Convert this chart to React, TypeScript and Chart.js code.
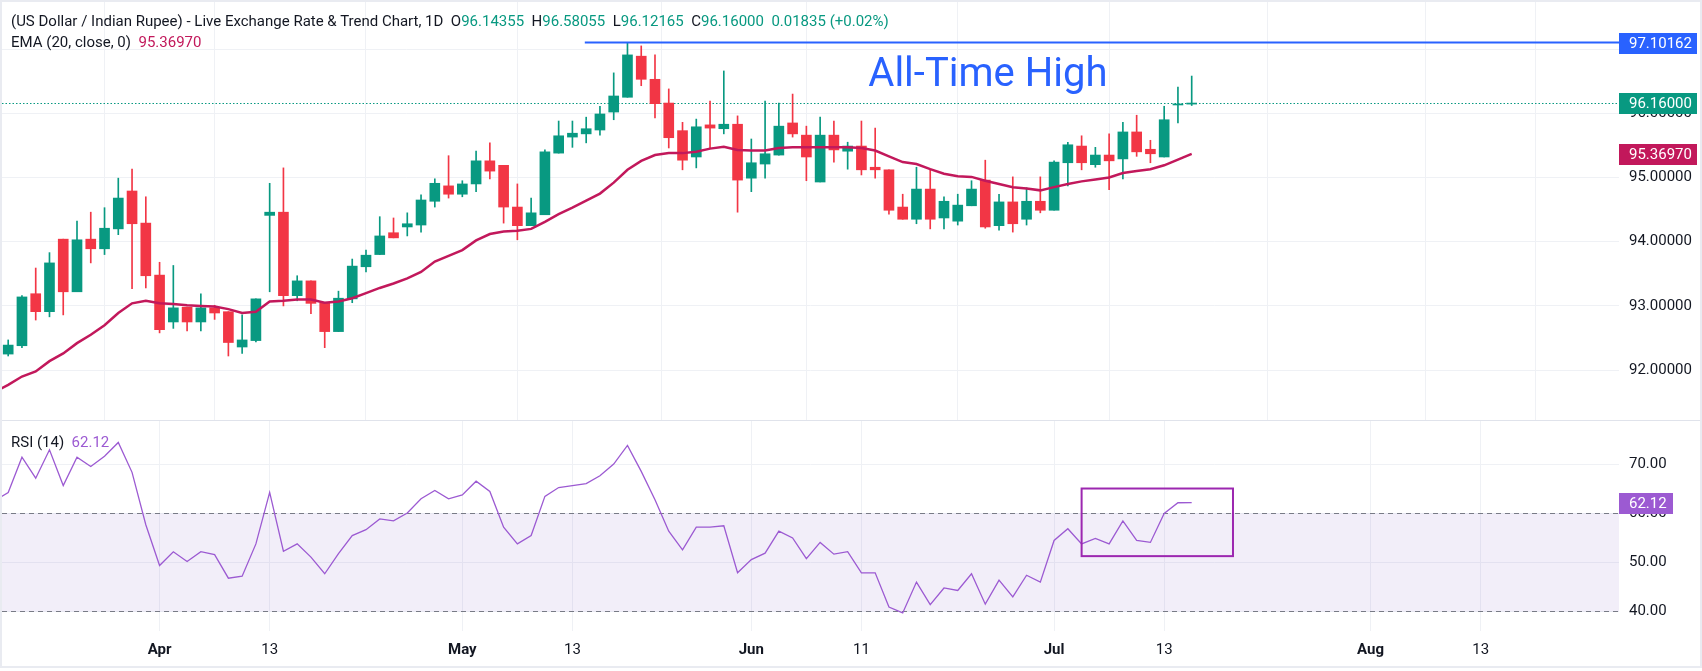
import React, { useEffect, useRef } from 'react';
import { Chart, registerables } from 'chart.js';

Chart.register(...registerables);

// daily candles, index 0 = Mar 17 ... index 86 = Jul 15
const opens = [
  92.25, 92.38, 93.19, 92.91, 94.04, 93.22, 94.04, 93.89, 94.20, 94.79,
  94.29, 93.48, 92.75, 92.98, 92.75, 92.97, 92.91, 92.36, 92.46, 94.41,
  94.46, 93.16, 93.39, 93.05, 92.60, 93.11, 93.61, 93.80, 94.14, 94.23,
  94.26, 94.63, 94.87, 94.74, 94.90, 95.26, 95.19, 94.54, 94.25, 94.42,
  95.38, 95.63, 95.68, 95.74, 96.02, 96.25, 96.89, 96.53, 96.16, 95.73,
  95.32, 95.82, 95.76, 95.83, 94.99, 95.21, 95.35, 95.85, 95.66, 94.93,
  95.66, 95.41, 95.49, 95.16, 95.12, 94.54, 94.35, 94.82, 94.37, 94.32,
  94.56, 94.96, 94.25, 94.62, 94.35, 94.63, 94.49, 95.23, 95.49, 95.20,
  95.35, 95.29, 95.71, 95.44, 95.32, 96.13, 96.14355,
];
const highs = [
  92.47, 93.16, 93.59, 93.83, 94.04, 94.32, 94.46, 94.53, 94.99, 95.13,
  94.70, 93.68, 93.63, 92.98, 93.19, 93.01, 92.91, 92.86, 93.11, 94.91,
  95.15, 93.47, 93.39, 93.05, 93.23, 93.73, 93.87, 94.39, 94.37, 94.45,
  94.73, 94.98, 95.34, 94.95, 95.41, 95.54, 95.19, 94.90, 94.68, 95.43,
  95.88, 95.88, 95.94, 96.11, 96.63, 97.10162, 97.05, 96.91, 96.38, 95.86,
  95.91, 96.19, 96.66, 95.96, 95.60, 96.19, 96.16, 96.30, 95.80, 95.94,
  95.88, 95.55, 95.88, 95.77, 95.12, 94.74, 95.16, 95.13, 94.70, 94.74,
  94.95, 95.27, 94.74, 95.01, 94.84, 95.01, 95.26, 95.55, 95.65, 95.47,
  95.68, 95.86, 95.97, 95.58, 96.11, 96.41, 96.58055,
];
const lows = [
  92.22, 92.35, 92.78, 92.83, 92.86, 93.22, 93.67, 93.80, 94.11, 93.27,
  93.28, 92.58, 92.65, 92.61, 92.61, 92.79, 92.22, 92.26, 92.44, 93.22,
  93.00, 93.08, 92.88, 92.35, 92.60, 93.05, 93.53, 93.80, 94.06, 94.09,
  94.15, 94.54, 94.68, 94.70, 94.78, 94.98, 94.29, 94.03, 94.25, 94.42,
  95.38, 95.47, 95.54, 95.66, 95.90, 96.25, 96.43, 95.93, 95.46, 95.12,
  95.15, 95.46, 95.68, 94.46, 94.78, 94.99, 95.35, 95.63, 94.95, 94.93,
  95.24, 95.13, 95.04, 94.99, 94.43, 94.35, 94.28, 94.20, 94.20, 94.26,
  94.56, 94.21, 94.18, 94.15, 94.26, 94.45, 94.49, 94.87, 95.12, 95.16,
  94.81, 94.98, 95.33, 95.23, 95.32, 95.85, 96.12165,
];
const closes = [
  92.39, 93.14, 92.91, 93.67, 93.22, 94.03, 93.89, 94.21, 94.68, 94.28,
  93.47, 92.63, 92.97, 92.75, 92.97, 92.89, 92.43, 92.47, 93.11, 94.46,
  93.16, 93.39, 93.04, 92.60, 93.12, 93.62, 93.79, 94.09, 94.06, 94.28,
  94.65, 94.91, 94.74, 94.90, 95.26, 95.10, 94.54, 94.25, 94.45, 95.40,
  95.65, 95.69, 95.76, 95.99, 96.27, 96.91, 96.53, 96.15, 95.62, 95.27,
  95.79, 95.77, 95.83, 94.96, 95.23, 95.37, 95.80, 95.68, 95.32, 95.66,
  95.43, 95.49, 95.12, 95.12, 94.49, 94.35, 94.82, 94.35, 94.63, 94.57,
  94.82, 94.23, 94.62, 94.28, 94.63, 94.49, 95.24, 95.51, 95.23, 95.35,
  95.26, 95.71, 95.40, 95.37, 95.90, 96.14165, 96.16,
];

// EMA(20, close) and RSI(14), starting one bar before the first candle
const seriesStart = -1;
const ema20 = [
  91.66,
  91.77, 91.90, 91.98, 92.14, 92.26, 92.42, 92.55, 92.70, 92.89, 93.04,
  93.08, 93.04, 93.03, 93.01, 93.00, 92.99, 92.95, 92.89, 92.91, 93.07,
  93.08, 93.10, 93.10, 93.05, 93.07, 93.12, 93.20, 93.28, 93.35, 93.43,
  93.53, 93.69, 93.78, 93.87, 94.02, 94.12, 94.16, 94.17, 94.20, 94.31,
  94.43, 94.53, 94.64, 94.75, 94.92, 95.12, 95.26, 95.35, 95.38, 95.38,
  95.40, 95.45, 95.48, 95.43, 95.42, 95.42, 95.46, 95.47, 95.47, 95.47,
  95.47, 95.47, 95.46, 95.42, 95.33, 95.24, 95.21, 95.13, 95.06, 95.02,
  95.01, 94.95, 94.90, 94.85, 94.83, 94.80, 94.85, 94.90, 94.94, 94.97,
  95.00, 95.07, 95.10, 95.13, 95.19, 95.28, 95.3697,
];
const rsi14 = [
  62.5,
  64.2, 71.4, 67.1, 72.9, 65.6, 71.4, 69.5, 71.6, 74.4, 68.3,
  57.6, 49.3, 52.1, 50.1, 52.1, 51.5, 46.7, 47.1, 53.7, 64.2,
  52.2, 53.7, 51.0, 47.6, 51.7, 55.4, 56.6, 58.8, 58.4, 60.0,
  62.9, 64.6, 62.9, 63.7, 66.5, 64.4, 57.1, 53.7, 55.4, 63.4,
  65.2, 65.6, 66.0, 67.6, 70.0, 73.8, 68.5, 62.7, 56.3, 52.5,
  57.1, 57.1, 57.4, 47.8, 50.5, 51.8, 56.3, 54.9, 50.7, 54.0,
  51.6, 52.1, 47.8, 47.8, 40.8, 39.6, 45.9, 41.3, 44.7, 44.2,
  47.6, 41.4, 46.3, 42.9, 47.3, 45.9, 54.4, 56.8, 53.7, 54.8,
  53.7, 58.4, 54.4, 54.0, 59.9, 62.1, 62.12,
];

// time axis labels (bar index -> text)
const xTickIdx = [11, 19, 33, 41, 54, 62, 76, 84, 99, 107];
const xTickLabels = ['Apr', '13', 'May', '13', 'Jun', '11', 'Jul', '13', 'Aug', '13'];
const monthLabels = ['Apr', 'May', 'Jun', 'Jul', 'Aug'];
const priceTicks = [92, 93, 94, 95, 96, 97];
const rsiTicks = [40, 50, 60, 70];

const athPrice = 97.10162;
const athStartIdx = 41.9;
const athLabelIdx = 62.5;
const athLabelPrice = 96.43;
const lastClose = 96.16;
const lastEma = 95.3697;
const lastRsi = 62.12;
const rsiUpper = 60;
const rsiLower = 40;
const rsiBox = { from: 78, to: 89, top: 65, bottom: 51.2 };

const xMin = -0.45;
const xMax = 117.05;

const GREEN = '#089981';
const RED = '#f23645';
const EMA_COLOR = '#c2185b';
const BLUE = '#2962ff';
const RSI_COLOR = '#9c5ad2';
const GRID = '#eff1f5';
const TEXT = '#131722';
const FONT = 'Roboto';

Chart.defaults.font.family = FONT;

const labelAt = (v: number) => {
  const k = xTickIdx.indexOf(v);
  return k >= 0 ? xTickLabels[k] : '';
};

// keep the plot area where the layout puts it: no extra room for edge labels
const noPadding = (s: any) => {
  s.paddingTop = 0;
  s.paddingBottom = 0;
  s.paddingLeft = 0;
  s.paddingRight = 0;
};

const xScale = (showLabels: boolean): any => ({
  type: 'linear',
  min: xMin,
  max: xMax,
  offset: false,
  afterBuildTicks: (axis: any) => {
    axis.ticks = xTickIdx.map((v) => ({ value: v }));
  },
  afterFit: (s: any) => {
    s.height = showLabels ? 35 : 0;
    noPadding(s);
  },
  grid: { color: GRID, drawTicks: false },
  border: { display: false },
  ticks: {
    display: showLabels,
    autoSkip: false,
    maxRotation: 0,
    padding: 10,
    color: TEXT,
    font: (c: any) => ({
      family: FONT,
      size: 15,
      weight: c.tick && monthLabels.includes(labelAt(c.tick.value)) ? 'bold' : 'normal',
    }),
    callback: (v: any) => labelAt(Number(v)),
  },
});

const yScale = (min: number, max: number, ticks: number[], digits: number): any => ({
  type: 'linear',
  position: 'right',
  min,
  max,
  afterBuildTicks: (axis: any) => {
    axis.ticks = ticks.map((v) => ({ value: v }));
  },
  afterFit: (s: any) => {
    s.width = 81;
    noPadding(s);
  },
  grid: { color: GRID, drawTicks: false },
  border: { display: false },
  ticks: {
    padding: 10,
    color: TEXT,
    font: { family: FONT, size: 15 },
    callback: (v: any) => Number(v).toFixed(digits),
  },
});

function axisTag(chart: any, value: number, text: string, color: string, w: number) {
  const { ctx, chartArea, scales } = chart;
  const y = Math.round(scales.y.getPixelForValue(value));
  ctx.save();
  ctx.fillStyle = color;
  ctx.fillRect(chartArea.right, y - 10, w, 21);
  ctx.fillStyle = '#ffffff';
  ctx.font = `15px ${FONT}`;
  ctx.textBaseline = 'middle';
  ctx.textAlign = 'left';
  ctx.fillText(text, chartArea.right + 10, y + 1);
  ctx.restore();
}

const priceOverlay = {
  id: 'priceOverlay',
  beforeDatasetsDraw(chart: any) {
    const { ctx, chartArea, scales } = chart;
    const y = Math.round(scales.y.getPixelForValue(lastClose)) + 0.5;
    ctx.save();
    ctx.strokeStyle = GREEN;
    ctx.lineWidth = 1;
    ctx.setLineDash([1.5, 2]);
    ctx.beginPath();
    ctx.moveTo(chartArea.left, y);
    ctx.lineTo(chartArea.right, y);
    ctx.stroke();
    ctx.restore();
  },
  afterDraw(chart: any) {
    const { ctx, scales } = chart;
    ctx.save();
    ctx.fillStyle = BLUE;
    ctx.font = `40px ${FONT}`;
    ctx.textBaseline = 'alphabetic';
    ctx.fillText('All-Time High', scales.x.getPixelForValue(athLabelIdx), scales.y.getPixelForValue(athLabelPrice));
    ctx.restore();
    axisTag(chart, athPrice, athPrice.toFixed(5), BLUE, 78);
    axisTag(chart, lastClose, lastClose.toFixed(5), GREEN, 78);
    axisTag(chart, lastEma, lastEma.toFixed(5), EMA_COLOR, 78);
  },
};

const rsiOverlay = {
  id: 'rsiOverlay',
  beforeDatasetsDraw(chart: any) {
    const { ctx, chartArea, scales } = chart;
    const yU = Math.round(scales.y.getPixelForValue(rsiUpper)) + 0.5;
    const yL = Math.round(scales.y.getPixelForValue(rsiLower)) + 0.5;
    ctx.save();
    ctx.fillStyle = 'rgba(126, 87, 194, 0.1)';
    ctx.fillRect(chartArea.left, yU, chartArea.right - chartArea.left, yL - yU);
    ctx.strokeStyle = '#787b86';
    ctx.lineWidth = 1;
    ctx.setLineDash([5, 4]);
    [yU, yL].forEach((y) => {
      ctx.beginPath();
      ctx.moveTo(chartArea.left, y);
      ctx.lineTo(chartArea.right, y);
      ctx.stroke();
    });
    ctx.restore();
  },
  afterDatasetsDraw(chart: any) {
    const { ctx, scales } = chart;
    const x1 = scales.x.getPixelForValue(rsiBox.from);
    const x2 = scales.x.getPixelForValue(rsiBox.to);
    const y1 = scales.y.getPixelForValue(rsiBox.top);
    const y2 = scales.y.getPixelForValue(rsiBox.bottom);
    ctx.save();
    ctx.strokeStyle = '#9c27b0';
    ctx.lineWidth = 2;
    ctx.strokeRect(x1, y1, x2 - x1, y2 - y1);
    ctx.restore();
  },
  afterDraw(chart: any) {
    axisTag(chart, lastRsi, lastRsi.toFixed(2), RSI_COLOR, 54);
  },
};

export default function App() {
  const priceRef = useRef<HTMLCanvasElement>(null);
  const rsiRef = useRef<HTMLCanvasElement>(null);

  useEffect(() => {
    if (!priceRef.current || !rsiRef.current) return;

    const candleColors = closes.map((c, i) => (c >= opens[i] ? GREEN : RED));

    const priceChart = new Chart(priceRef.current, {
      type: 'bar',
      data: {
        datasets: [
          {
            type: 'line',
            data: [
              { x: athStartIdx, y: athPrice },
              { x: xMax, y: athPrice },
            ],
            borderColor: BLUE,
            borderWidth: 2,
            pointRadius: 0,
            order: 0,
          } as any,
          {
            type: 'line',
            data: ema20.map((v, k) => ({ x: k + seriesStart, y: v })),
            borderColor: EMA_COLOR,
            borderWidth: 2.5,
            pointRadius: 0,
            tension: 0,
            order: 1,
          } as any,
          {
            type: 'bar',
            data: opens.map((o, i) => ({ x: i, y: [o, closes[i]] })),
            backgroundColor: candleColors,
            barThickness: 10,
            minBarLength: 1,
            grouped: false,
            borderWidth: 0,
            order: 2,
          } as any,
          {
            type: 'bar',
            data: lows.map((l, i) => ({ x: i, y: [l, highs[i]] })),
            backgroundColor: candleColors,
            barThickness: 1,
            grouped: false,
            borderWidth: 0,
            order: 3,
          } as any,
        ],
      },
      options: {
        animation: false,
        responsive: false,
        maintainAspectRatio: false,
        layout: { padding: { left: 2, top: 2, right: 2, bottom: 0 } },
        plugins: { legend: { display: false }, tooltip: { enabled: false } },
        scales: {
          x: xScale(false),
          y: yScale(91.223, 97.734, priceTicks, 5),
        },
      },
      plugins: [priceOverlay],
    });

    const rsiChart = new Chart(rsiRef.current, {
      type: 'line',
      data: {
        datasets: [
          {
            data: rsi14.map((v, k) => ({ x: k + seriesStart, y: v })),
            borderColor: RSI_COLOR,
            borderWidth: 1.3,
            pointRadius: 0,
            tension: 0,
          },
        ],
      },
      options: {
        animation: false,
        responsive: false,
        maintainAspectRatio: false,
        layout: { padding: { left: 2, top: 0, right: 2, bottom: 0 } },
        plugins: { legend: { display: false }, tooltip: { enabled: false } },
        scales: {
          x: xScale(true),
          y: yScale(35.92, 78.78, rsiTicks, 2),
        },
      },
      plugins: [rsiOverlay],
    });

    return () => {
      priceChart.destroy();
      rsiChart.destroy();
    };
  }, []);

  const legend: React.CSSProperties = {
    position: 'absolute',
    left: 11,
    fontSize: 15,
    lineHeight: '18px',
    color: TEXT,
    whiteSpace: 'nowrap',
    zIndex: 2,
  };

  return (
    <div
      style={{
        position: 'absolute',
        left: 0,
        top: 0,
        width: 1702,
        height: 671,
        background: '#ffffff',
        fontFamily: FONT,
        overflow: 'hidden',
      }}
    >
      <canvas ref={priceRef} width={1702} height={420} style={{ position: 'absolute', left: 0, top: 0 }} />
      <div style={{ position: 'absolute', left: 0, top: 420, width: 1702, height: 1, background: '#e0e3eb' }} />
      <canvas ref={rsiRef} width={1702} height={245} style={{ position: 'absolute', left: 0, top: 421 }} />
      <div
        style={{
          position: 'absolute',
          left: 0,
          top: 0,
          width: 1702,
          height: 668,
          boxSizing: 'border-box',
          border: '2px solid #e9ebf1',
          pointerEvents: 'none',
        }}
      />
      <div style={{ ...legend, top: 12 }}>
        (US Dollar / Indian Rupee) - Live Exchange Rate &amp; Trend Chart, 1D&nbsp;&nbsp;O
        <span style={{ color: GREEN }}>96.14355</span>&nbsp;&nbsp;H
        <span style={{ color: GREEN }}>96.58055</span>&nbsp;&nbsp;L
        <span style={{ color: GREEN }}>96.12165</span>&nbsp;&nbsp;C
        <span style={{ color: GREEN }}>96.16000</span>&nbsp;&nbsp;
        <span style={{ color: GREEN }}>0.01835 (+0.02%)</span>
      </div>
      <div style={{ ...legend, top: 33 }}>
        EMA (20, close, 0)&nbsp;&nbsp;<span style={{ color: EMA_COLOR }}>95.36970</span>
      </div>
      <div style={{ ...legend, top: 433 }}>
        RSI (14)&nbsp;&nbsp;<span style={{ color: RSI_COLOR }}>62.12</span>
      </div>
    </div>
  );
}
